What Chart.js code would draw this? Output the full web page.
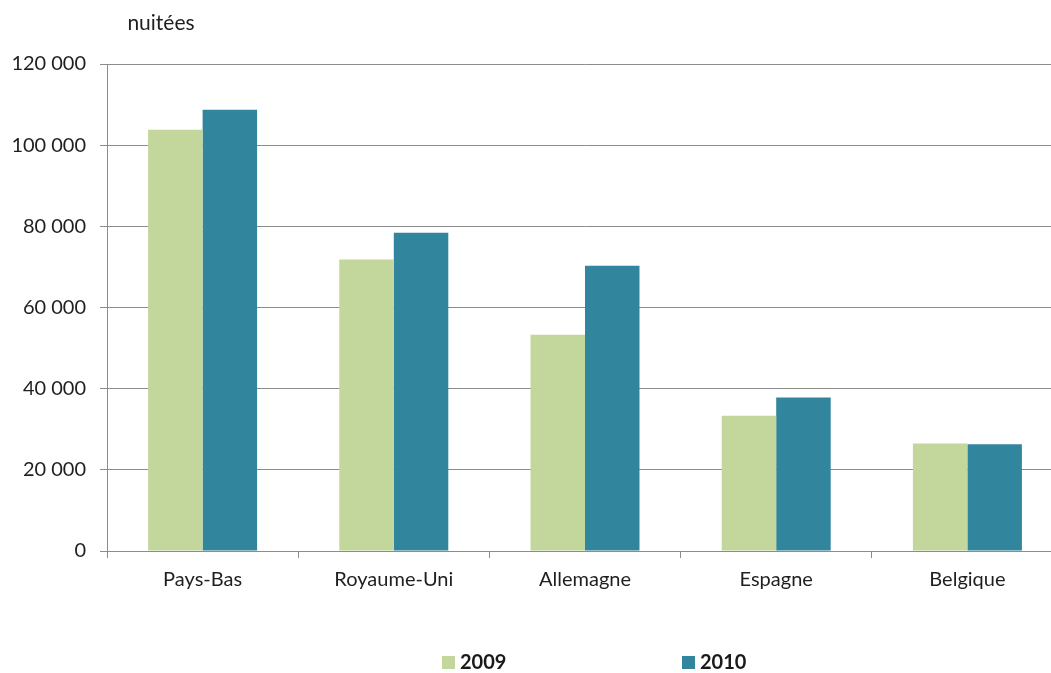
<!DOCTYPE html>
<html><head><meta charset="utf-8">
<script src="https://cdn.jsdelivr.net/npm/chart.js@4"></script>
<style>html,body{margin:0;padding:0;overflow:hidden;background:#fff}#wrap{width:1075px;height:673px}</style>
</head><body><div id="wrap"><canvas id="c" width="1075" height="673"></canvas></div>
<script>
const categories = ["Pays-Bas", "Royaume-Uni", "Allemagne", "Espagne", "Belgique"];
const seriesLabels = ["2009", "2010"];
const values2009 = [103800, 71800, 53300, 33300, 26500];
const values2010 = [108700, 78400, 70300, 37800, 26300];
const yTicks = [0, 20000, 40000, 60000, 80000, 100000, 120000];
const unitLabel = "nuitées";
const colors = ["#C3D69B", "#31859C"];
const FONT = "Lato, 'Liberation Sans', sans-serif";

const fmt = v => String(v).replace(/\B(?=(\d{3})+(?!\d))/g, "\u202F");

const extras = {
  id: "extras",
  afterDraw(chart) {
    const ctx = chart.ctx;
    ctx.save();
    ctx.fillStyle = "#1f1f1f";
    ctx.font = "21px " + FONT;
    ctx.textBaseline = "middle";
    ctx.textAlign = "center";
    ctx.fillText(unitLabel, 161, 23);
    // legend
    const xs = [442, 682];
    ctx.font = "bold 20px " + FONT;
    ctx.textAlign = "left";
    chart.data.datasets.forEach((ds, i) => {
      ctx.fillStyle = ds.backgroundColor;
      ctx.fillRect(xs[i], 656, 13, 13);
      ctx.fillStyle = "#1a1a1a";
      ctx.fillText(ds.label, xs[i] + 18, 663);
    });
    ctx.restore();
  }
};

new Chart(document.getElementById("c"), {
  type: "bar",
  data: {
    labels: categories,
    datasets: [
      { label: seriesLabels[0], data: values2009, backgroundColor: colors[0] },
      { label: seriesLabels[1], data: values2010, backgroundColor: colors[1] }
    ]
  },
  options: {
    responsive: false,
    animation: false,
    layout: { padding: { top: 64, right: 12, left: 0, bottom: 0 } },
    plugins: { legend: { display: false }, tooltip: { enabled: false } },
    datasets: { bar: { barPercentage: 1, categoryPercentage: 0.57 } },
    scales: {
      x: {
        afterFit(s) { s.height = 122; },
        grid: { offset: true, drawOnChartArea: false, tickLength: 7, color: "#8c8c8c" },
        border: { color: "#8c8c8c" },
        ticks: { font: { family: FONT, size: 20 }, color: "#1f1f1f", padding: 10 }
      },
      y: {
        min: 0, max: 120000,
        afterFit(s) { s.width = 107; },
        afterBuildTicks(s) { s.ticks = yTicks.map(v => ({ value: v })); },
        grid: { color: "#8c8c8c", tickLength: 7 },
        border: { color: "#8c8c8c" },
        ticks: { font: { family: FONT, size: 20 }, color: "#1f1f1f", padding: 14, callback: v => fmt(v) }
      }
    }
  },
  plugins: [extras]
});
</script></body></html>
